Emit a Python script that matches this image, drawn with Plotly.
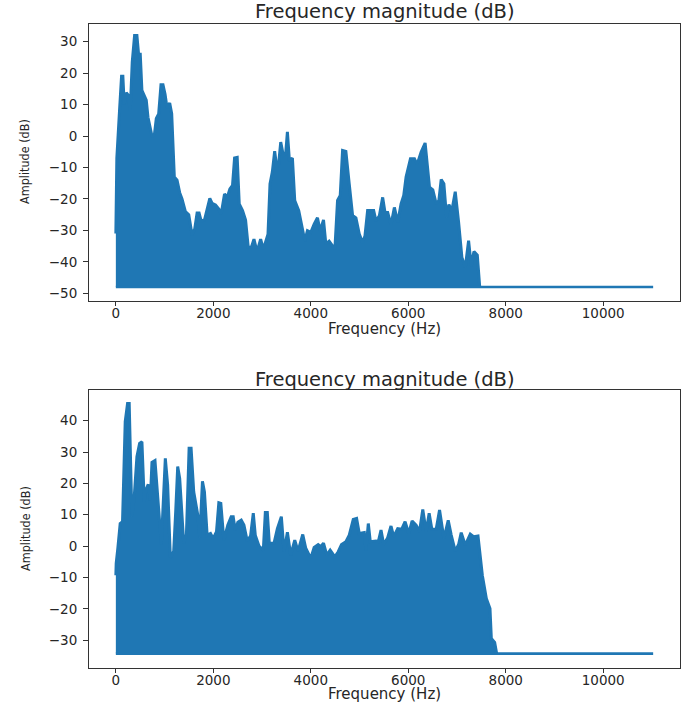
import plotly.graph_objects as go

BLUE = "#1f77b4"
TITLE = "Frequency magnitude (dB)"
XLABEL = "Frequency (Hz)"
YLABEL = "Amplitude (dB)"
X_TICKS = [0, 2000, 4000, 6000, 8000, 10000]
Y_TICKS_TOP = [-50, -40, -30, -20, -10, 0, 10, 20, 30]
Y_TICKS_BOTTOM = [-30, -20, -10, 0, 10, 20, 30, 40]
NYQUIST = 11025
FLOOR_TOP = -48.0
FLOOR_BOTTOM = -34.3

freq_top = [0, 5, 20, 75, 117, 144, 172, 213, 254, 295, 336, 384, 432, 467, 501, 535, 583, 624, 659, 707, 741, 789, 830, 878, 926, 967, 1009, 1050, 1105, 1146, 1200, 1256, 1310, 1358, 1427, 1496, 1564, 1619, 1667, 1708, 1750, 1818, 1873, 1928, 1976, 2045, 2113, 2161, 2230, 2285, 2340, 2394, 2436, 2490, 2532, 2600, 2662, 2717, 2779, 2834, 2875, 2923, 2971, 3026, 3081, 3122, 3163, 3211, 3259, 3300, 3341, 3383, 3437, 3485, 3520, 3561, 3623, 3671, 3753, 3822, 3877, 3931, 4000, 4069, 4137, 4192, 4261, 4309, 4377, 4446, 4494, 4549, 4604, 4652, 4720, 4789, 4858, 4926, 4995, 5063, 5111, 5166, 5290, 5338, 5406, 5475, 5523, 5578, 5646, 5715, 5784, 5852, 5907, 5955, 6045, 6127, 6182, 6264, 6346, 6436, 6504, 6573, 6628, 6676, 6731, 6786, 6834, 6895, 6964, 7033, 7101, 7170, 7238, 7293, 7348, 7417, 7465]
peak_top = [-31, -7, -7, 8, 19, 19, 10, 13.8, 13, 8, 23.5, 32, 32, 26, 26, 14.5, 12.5, 11.4, 6, 1.8, 0, 0.2, 5.6, 7, 16.3, 16.3, 13.4, 9, 10.5, 7.1, -13, -14, -18, -20, -24, -25, -31.5, -29.5, -24.5, -24.5, -27, -26.7, -23.2, -19.8, -21.4, -21.9, -23.2, -24.8, -18.4, -19.5, -16.8, -15.7, -7, -6.8, -21.6, -23.7, -26.7, -35.4, -35.4, -32.8, -35.4, -35.4, -32.8, -36, -33.3, -31.2, -15.2, -11.4, -4.8, -9.9, -8.8, -1.9, -6.2, -5.6, 1.3, -7.8, -7, -20.5, -23.7, -29.5, -33.3, -30.1, -30.6, -28, -26, -30.1, -26.7, -34.3, -33.4, -34.9, -36, -20.5, -18.9, -4.6, -4.9, -15.2, -25.3, -26, -31.2, -33.9, -31.8, -23.7, -23.7, -27, -25.4, -19.5, -24.3, -24.3, -28.2, -22.7, -27.4, -21.6, -18.9, -13, -7.2, -7.2, -9, -5.1, -2.2, -16.3, -17.1, -21.6, -20.5, -13.8, -15.2, -25.9, -21.8, -23.7, -17.7, -27.4, -38.6, -41.8, -33.3, -41.3, -36.7, -37.9, -47.7]

freq_bottom = [0, 7, 41, 89, 137, 192, 240, 274, 329, 377, 432, 487, 535, 583, 617, 665, 707, 741, 803, 858, 933, 1015, 1063, 1118, 1187, 1228, 1269, 1310, 1393, 1448, 1503, 1544, 1598, 1681, 1722, 1777, 1818, 1873, 1942, 1996, 2065, 2113, 2154, 2216, 2298, 2367, 2408, 2449, 2504, 2573, 2628, 2696, 2765, 2820, 2861, 2937, 3026, 3067, 3108, 3149, 3245, 3314, 3396, 3451, 3520, 3588, 3671, 3739, 3835, 3897, 4000, 4069, 4151, 4206, 4261, 4329, 4398, 4494, 4563, 4631, 4720, 4789, 4871, 4940, 4995, 5098, 5132, 5180, 5221, 5338, 5386, 5441, 5496, 5578, 5646, 5701, 5784, 5866, 5935, 6010, 6079, 6161, 6230, 6298, 6367, 6429, 6484, 6573, 6642, 6731, 6820, 6882, 6964, 7033, 7087, 7170, 7273, 7341, 7431, 7520, 7602, 7677, 7705, 7773, 7814]
peak_bottom = [-9.3, -5.5, -0.7, 7.2, 7.8, 39.7, 45.5, 45.5, 9.4, 15.7, 28.5, 32.8, 33.3, 14.1, 17.9, 19.7, 14.7, 26.7, 27.3, 14.7, 0.5, 28, 19.5, -3.7, -1.6, 11, 25.4, 21.6, 0.9, 3.7, 31.2, 31.2, 17.3, 9.9, 2.7, 20.7, 17.3, 3.5, 4, 2.4, 4.6, 13.8, 13.6, 1.9, 6.7, 9.4, 9.4, 5.1, 7.6, 8.3, 6.7, 1.6, 3.3, 10.5, 3.5, 0, -1.3, 10.7, 10.7, 0.9, 0.9, 5.6, 9.4, -1.8, 4.4, -2.9, 1.9, -1.6, 3.7, -0.7, -3.9, -0.4, 0.5, -0.2, 0.9, -2.9, -1.3, -3.4, -1.8, 0.5, 1.4, 3.5, 8.5, 8.8, 4, 4.3, -1.3, 7.2, 1.4, 1.6, 1.4, 5.1, 0.5, 2.7, 6.4, 3, 5.6, 5.4, 7.8, 4, 8, 6.7, 4.6, 11.7, 4.6, 10.5, 5.4, 5.4, 11.5, 2.4, 8.2, 3.5, -1.6, 0.5, 4.3, 0.3, 3.8, 3, 3.2, -9.3, -16.7, -19.9, -29.5, -30.7, -34.3]


def traces(freq, peak, floor, xaxis, yaxis):
    base = go.Scatter(x=[freq[0], NYQUIST], y=[floor, floor], mode="lines", xaxis=xaxis, yaxis=yaxis,
                      showlegend=False, hoverinfo="skip", line=dict(color=BLUE, width=2.6))
    env = go.Scatter(x=freq, y=peak, mode="lines", xaxis=xaxis, yaxis=yaxis, showlegend=False,
                     hoverinfo="skip", fill="tonexty", fillcolor=BLUE, line=dict(color=BLUE, width=3))
    return [base, env]


W, H = 684, 703
fig = go.Figure()
fig.add_traces(traces(freq_top, peak_top, FLOOR_TOP, "x", "y"))
fig.add_traces(traces(freq_bottom, peak_bottom, FLOOR_BOTTOM, "x2", "y2"))

INK = "#262626"
TICKFONT = dict(family="DejaVu Sans", size=13.5, color=INK)
LEFT, RIGHT = 89, 680


def xaxis(anchor):
    return dict(domain=[LEFT / W, RIGHT / W], anchor=anchor, range=[-551, 11576], tickvals=X_TICKS,
                tickformat="d", ticks="outside", ticklen=4, tickwidth=1, tickcolor="#333", showgrid=False,
                zeroline=False, showline=True, linecolor="#333", linewidth=1, mirror=True, tickfont=TICKFONT,
                ticklabelstandoff=-4)


def yaxis(anchor, dom, rng, ticks):
    return dict(domain=dom, anchor=anchor, range=rng, tickvals=ticks, ticks="outside", ticklen=5, tickwidth=1,
                tickcolor="#333", showgrid=False, zeroline=False, showline=True, linecolor="#333", linewidth=1,
                mirror=True, tickfont=TICKFONT, tickformat="d", ticklabelstandoff=3)


def label(text, x, y, size, family="DejaVu Sans", angle=0, yanchor="middle"):
    return dict(text=text, x=x / W, xref="paper", y=1 - y / H, yref="paper", showarrow=False, textangle=angle,
                xanchor="center", yanchor=yanchor, font=dict(family=family, size=size, color=INK))


CX = (LEFT + RIGHT) / 2
fig.update_layout(
    width=W, height=H, autosize=False, paper_bgcolor="white", plot_bgcolor="white",
    margin=dict(l=0, r=0, t=0, b=0),
    xaxis=xaxis("y"), xaxis2=xaxis("y2"),
    yaxis=yaxis("x", [1 - 300.5 / H, 1 - 23.5 / H], [-52.3, 35.8], Y_TICKS_TOP),
    yaxis2=yaxis("x2", [1 - 667.7 / H, 1 - 390 / H], [-38.8, 49.8], Y_TICKS_BOTTOM),
    annotations=[
        label(TITLE, CX, 12, 19.5), label(TITLE, CX, 379, 19.5),
        label(XLABEL, CX, 328.5, 15), label(XLABEL, CX, 694, 15),
        label(YLABEL, 25, 162, 12.5, "DejaVu Sans Condensed", -90),
        label(YLABEL, 25, 529, 12.5, "DejaVu Sans Condensed", -90),
    ],
)
fig.write_html("out.html", post_script="document.body.style.margin='0';", config=dict(displayModeBar=False))
